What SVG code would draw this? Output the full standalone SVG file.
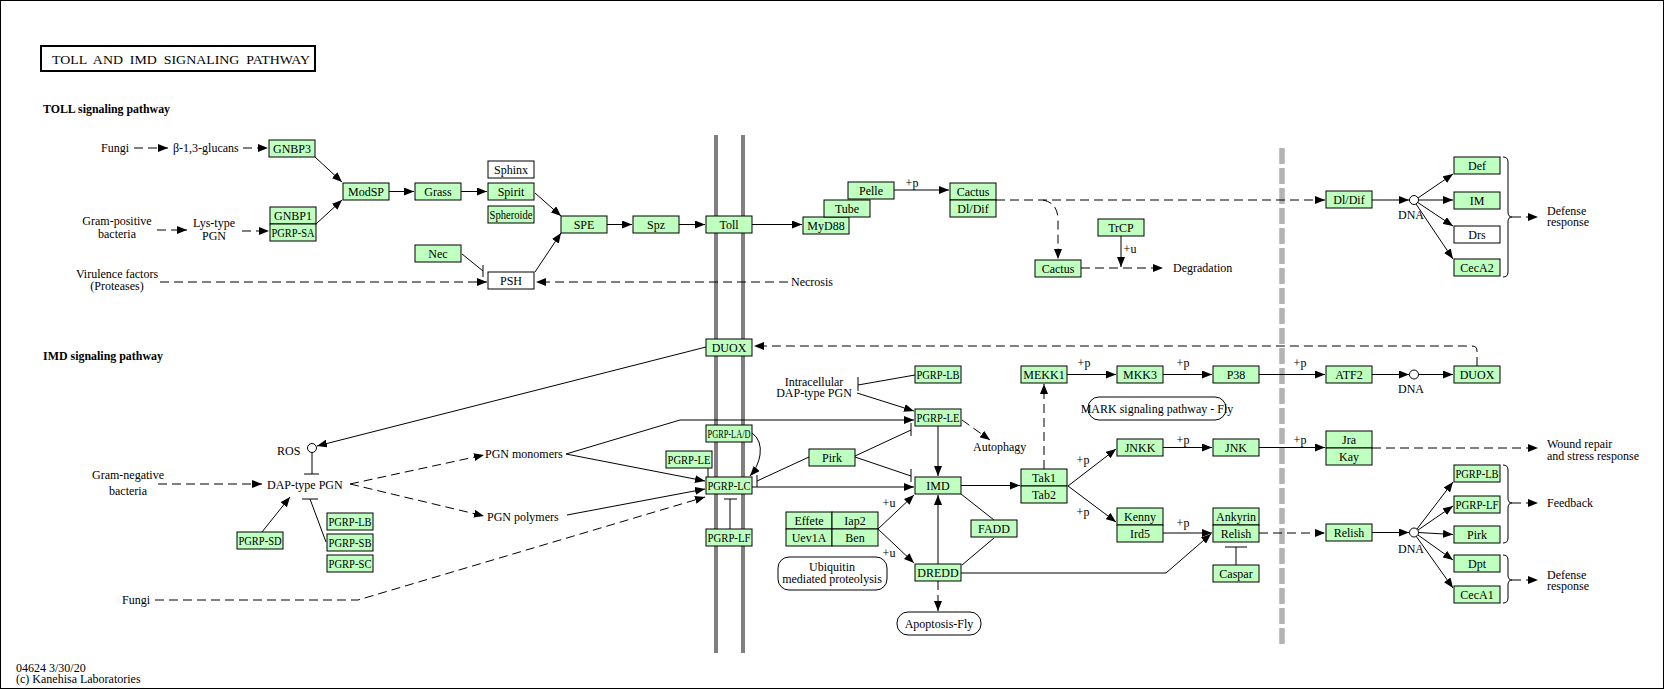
<svg xmlns="http://www.w3.org/2000/svg" width="1664" height="689" viewBox="0 0 1664 689">
<style>
text{font-family:"Liberation Serif","Times New Roman",serif;font-size:12px;fill:#000}
.n{fill:#bfffbf;stroke:#000;stroke-width:1}
.w{fill:#fff;stroke:#000;stroke-width:1}
.t{text-anchor:middle}
.c line,.c path,.c polyline{fill:none;stroke:#000;stroke-width:1}
.d{stroke-dasharray:9,5}
.b{font-weight:bold}
.r{text-anchor:end}
</style>
<defs>
<marker id="a" markerUnits="userSpaceOnUse" markerWidth="10" markerHeight="8" refX="10" refY="4" orient="auto"><path d="M0,0 L10,4 L0,8 z" fill="#000"/></marker>
</defs>
<rect x="0.5" y="0.5" width="1663" height="688" fill="#fff" stroke="#000"/>
<rect x="41" y="46" width="274" height="25" fill="none" stroke="#000" stroke-width="2"/>
<text x="52" y="64" font-size="15" xml:space="preserve" textLength="258" lengthAdjust="spacingAndGlyphs">TOLL  AND  IMD  SIGNALING  PATHWAY</text>
<text x="43" y="113" class="b" textLength="127" lengthAdjust="spacingAndGlyphs">TOLL signaling pathway</text>
<text x="43" y="360" class="b" textLength="120" lengthAdjust="spacingAndGlyphs">IMD signaling pathway</text>
<g id="membrane" stroke="#808080" stroke-width="4"><line x1="716" y1="135" x2="716" y2="653"/><line x1="743" y1="135" x2="743" y2="653"/></g>
<line id="nucleus" x1="1282" y1="148" x2="1282" y2="644" stroke="#b3b3b3" stroke-width="5.5" stroke-dasharray="16,4"/>
<g id="labels">
<text x="129" y="152" class="r">Fungi</text>
<text x="173" y="152">β-1,3-glucans</text>
<text x="117" y="225" class="t">Gram-positive</text><text x="117" y="238" class="t">bacteria</text>
<text x="214" y="227" class="t">Lys-type</text><text x="214" y="240" class="t">PGN</text>
<text x="117" y="278" class="t">Virulence factors</text><text x="117" y="290" class="t">(Proteases)</text>
<text x="791" y="286">Necrosis</text>
<text x="1173" y="272">Degradation</text>
<text x="1411" y="219" class="t" font-size="11">DNA</text>
<text x="1547" y="215">Defense</text><text x="1547" y="226">response</text>
<text x="912" y="187" class="t">+p</text>
<text x="1130" y="253" class="t">+u</text>
<text x="277" y="455">ROS</text>
<text x="128" y="479" class="t">Gram-negative</text><text x="128" y="495" class="t">bacteria</text>
<text x="267" y="489">DAP-type PGN</text>
<text x="485" y="458">PGN monomers</text>
<text x="487" y="521">PGN polymers</text>
<text x="150" y="604" class="r">Fungi</text>
<text x="814" y="386" class="t">Intracellular</text><text x="814" y="397" class="t">DAP-type PGN</text>
<text x="973" y="451">Autophagy</text>
<text x="1084" y="367" class="t">+p</text>
<text x="1183" y="367" class="t">+p</text>
<text x="1300" y="367" class="t">+p</text>
<text x="1411" y="393" class="t" font-size="11">DNA</text>
<text x="1183" y="444" class="t">+p</text>
<text x="1300" y="444" class="t">+p</text>
<text x="1083" y="464" class="t">+p</text>
<text x="1083" y="516" class="t">+p</text>
<text x="1183" y="527" class="t">+p</text>
<text x="889" y="507" class="t">+u</text>
<text x="889" y="557" class="t">+u</text>
<text x="1547" y="448">Wound repair</text><text x="1547" y="460">and stress response</text>
<text x="1547" y="507">Feedback</text>
<text x="1411" y="553" class="t" font-size="11">DNA</text>
<text x="1547" y="579">Defense</text><text x="1547" y="590">response</text>
<text x="16" y="672">04624 3/30/20</text>
<text x="16" y="683">(c) Kanehisa Laboratories</text>
</g>
<g id="maps">
<g id="map-mapk"><rect x="1088" y="397" width="138" height="23" rx="11" fill="#fff" stroke="#000"/><text x="1157" y="413" class="t">MARK signaling pathway - Fly</text></g>
<g id="map-ubq"><rect x="778" y="557" width="109" height="33" rx="11" fill="#fff" stroke="#000"/><text x="832" y="571" class="t">Ubiquitin</text><text x="832" y="583" class="t">mediated proteolysis</text></g>
<g id="map-apop"><rect x="897" y="612" width="84" height="23" rx="11" fill="#fff" stroke="#000"/><text x="939" y="628" class="t">Apoptosis-Fly</text></g>
</g>
<g id="connectors" class="c">
<line x1="134" y1="148" x2="168" y2="148" class="d" marker-end="url(#a)"/>
<line x1="243" y1="148" x2="268" y2="148" class="d" marker-end="url(#a)"/>
<line x1="315" y1="157" x2="342" y2="182" marker-end="url(#a)"/>
<line x1="316" y1="224" x2="342" y2="200" marker-end="url(#a)"/>
<line x1="389" y1="191.5" x2="414" y2="191.5" marker-end="url(#a)"/>
<line x1="461" y1="191.5" x2="487" y2="191.5" marker-end="url(#a)"/>
<line x1="535" y1="193" x2="561" y2="216" marker-end="url(#a)"/>
<line x1="535" y1="272" x2="561" y2="233" marker-end="url(#a)"/>
<line x1="462" y1="254" x2="483" y2="271"/><line x1="483" y1="265" x2="483" y2="277"/>
<line x1="160" y1="282" x2="487" y2="282" class="d" marker-end="url(#a)"/>
<line x1="788" y1="282" x2="536" y2="282" class="d" marker-end="url(#a)"/>
<line x1="157" y1="230" x2="187" y2="230" class="d" marker-end="url(#a)"/>
<line x1="242" y1="231" x2="269" y2="231" class="d" marker-end="url(#a)"/>
<line x1="607" y1="224.5" x2="632" y2="224.5" marker-end="url(#a)"/>
<line x1="679" y1="224.5" x2="705" y2="224.5" marker-end="url(#a)"/>
<line x1="752" y1="224.5" x2="802" y2="224.5" marker-end="url(#a)"/>
<line x1="894" y1="190" x2="949" y2="190" marker-end="url(#a)"/>
<line x1="996" y1="200" x2="1325" y2="200" class="d" marker-end="url(#a)"/>
<path d="M1043,200 Q1058,203 1058,220 V259" class="d" marker-end="url(#a)"/>
<line x1="1081" y1="268" x2="1163" y2="268" class="d" marker-end="url(#a)"/>
<line x1="1121" y1="236" x2="1121" y2="267" marker-end="url(#a)"/>
<line x1="1372" y1="200" x2="1409" y2="200" marker-end="url(#a)"/>
<line x1="1418" y1="198" x2="1453" y2="174" marker-end="url(#a)"/>
<line x1="1418" y1="200" x2="1453" y2="200" marker-end="url(#a)"/>
<line x1="1417" y1="202" x2="1453" y2="226" marker-end="url(#a)"/>
<line x1="1416" y1="204" x2="1453" y2="259" marker-end="url(#a)"/>
<path d="M1503,157 Q1508,157 1508,162 V212 Q1508,217 1512,217 Q1508,217 1508,222 V272 Q1508,277 1503,277"/>
<line x1="1512" y1="217" x2="1538" y2="217" class="d" marker-end="url(#a)"/>
<path d="M1477,366 V351 Q1477,346 1472,346 H754" class="d" marker-end="url(#a)"/>
<line x1="706" y1="347" x2="317" y2="446" marker-end="url(#a)"/>
<line x1="312" y1="452" x2="312" y2="474"/><line x1="304" y1="474" x2="319" y2="474"/>
<line x1="158" y1="484" x2="262" y2="484" class="d" marker-end="url(#a)"/>
<line x1="262" y1="532" x2="290" y2="497" marker-end="url(#a)"/>
<line x1="326" y1="542" x2="310" y2="499"/><line x1="302" y1="499" x2="318" y2="499"/>
<line x1="350" y1="484" x2="484" y2="455" class="d" marker-end="url(#a)"/>
<line x1="350" y1="484" x2="484" y2="516" class="d" marker-end="url(#a)"/>
<line x1="566" y1="454" x2="705" y2="481" marker-end="url(#a)"/>
<line x1="567" y1="515" x2="705" y2="489" marker-end="url(#a)"/>
<path d="M155,600 H358 L705,497" class="d" marker-end="url(#a)"/>
<path d="M566,454 L680,420 H914" marker-end="url(#a)"/>
<line x1="708" y1="468" x2="708" y2="477"/>
<path d="M752,433 Q762,440 760,455 Q758,467 750,476" marker-end="url(#a)"/>
<line x1="730" y1="529" x2="730" y2="499"/><line x1="724" y1="499" x2="737" y2="499"/>
<line x1="809" y1="457" x2="757" y2="481"/><line x1="757" y1="475" x2="757" y2="487"/>
<line x1="752" y1="487" x2="914" y2="487" marker-end="url(#a)"/>
<line x1="855" y1="456" x2="911" y2="430"/><line x1="911" y1="423" x2="911" y2="436"/>
<line x1="855" y1="457" x2="911" y2="476"/><line x1="911" y1="469" x2="911" y2="482"/>
<line x1="858" y1="385" x2="915" y2="375"/><line x1="858" y1="377" x2="858" y2="391"/>
<line x1="857" y1="393" x2="914" y2="411" marker-end="url(#a)"/>
<line x1="962" y1="420" x2="990" y2="440" class="d" marker-end="url(#a)"/>
<line x1="938" y1="426" x2="938" y2="476" marker-end="url(#a)"/>
<line x1="961" y1="485.5" x2="1020" y2="485.5" marker-end="url(#a)"/>
<line x1="1044" y1="469" x2="1044" y2="384" class="d" marker-end="url(#a)"/>
<line x1="1067" y1="374.5" x2="1116" y2="374.5" marker-end="url(#a)"/>
<line x1="1163" y1="374.5" x2="1212" y2="374.5" marker-end="url(#a)"/>
<line x1="1259" y1="374.5" x2="1325" y2="374.5" marker-end="url(#a)"/>
<line x1="1372" y1="374.5" x2="1409" y2="374.5" marker-end="url(#a)"/>
<line x1="1418" y1="374.5" x2="1453" y2="374.5" marker-end="url(#a)"/>
<line x1="1068" y1="486" x2="1116" y2="449" marker-end="url(#a)"/>
<line x1="1068" y1="486" x2="1116" y2="522" marker-end="url(#a)"/>
<line x1="1163" y1="447.5" x2="1212" y2="447.5" marker-end="url(#a)"/>
<line x1="1259" y1="447.5" x2="1325" y2="447.5" marker-end="url(#a)"/>
<line x1="1372" y1="448" x2="1538" y2="448" class="d" marker-end="url(#a)"/>
<line x1="1163" y1="533" x2="1212" y2="533" marker-end="url(#a)"/>
<path d="M961,573 H1166 L1211,534" marker-end="url(#a)"/>
<line x1="1236" y1="565" x2="1236" y2="547"/><line x1="1225" y1="547" x2="1247" y2="547"/>
<line x1="1259" y1="533" x2="1325" y2="533" class="d" marker-end="url(#a)"/>
<line x1="1372" y1="532.5" x2="1409" y2="532.5" marker-end="url(#a)"/>
<line x1="1417" y1="529" x2="1453" y2="482" marker-end="url(#a)"/>
<line x1="1418" y1="530" x2="1453" y2="506" marker-end="url(#a)"/>
<line x1="1418" y1="532.5" x2="1453" y2="534.5" marker-end="url(#a)"/>
<line x1="1418" y1="535" x2="1453" y2="560" marker-end="url(#a)"/>
<line x1="1416" y1="536" x2="1453" y2="588" marker-end="url(#a)"/>
<path d="M1503,465 Q1508,465 1508,470 V498 Q1508,503 1512,503 Q1508,503 1508,508 V538 Q1508,543 1503,543"/>
<line x1="1512" y1="503" x2="1538" y2="503" class="d" marker-end="url(#a)"/>
<path d="M1503,555 Q1508,555 1508,560 V575 Q1508,580 1512,580 Q1508,580 1508,585 V598 Q1508,603 1503,603"/>
<line x1="1512" y1="580" x2="1538" y2="580" class="d" marker-end="url(#a)"/>
<line x1="878" y1="529" x2="914" y2="495" marker-end="url(#a)"/>
<line x1="878" y1="529" x2="914" y2="563" marker-end="url(#a)"/>
<line x1="938" y1="564" x2="938" y2="495" marker-end="url(#a)"/>
<line x1="961" y1="494" x2="994" y2="520"/>
<line x1="994" y1="538" x2="962" y2="565"/>
<line x1="938" y1="581" x2="938" y2="611" class="d" marker-end="url(#a)"/>
</g>
<g id="compounds" fill="#fff" stroke="#000">
<circle id="dna1" cx="1414" cy="200" r="4.5"/>
<circle id="dna2" cx="1414" cy="374.5" r="4.5"/>
<circle id="dna3" cx="1414" cy="532.5" r="4.5"/>
<circle id="ros" cx="312" cy="448" r="4.5"/>
</g>
<g id="GNBP3"><rect class="n" x="269" y="140" width="46" height="17"/><text class="t" x="292" y="153">GNBP3</text></g>
<g id="GNBP1"><rect class="n" x="270" y="207" width="46" height="17"/><text class="t" x="293" y="220">GNBP1</text></g>
<g id="PGRP-SA"><rect class="n" x="270" y="224" width="46" height="17"/><text class="t" x="293" y="237" textLength="43" lengthAdjust="spacingAndGlyphs">PGRP-SA</text></g>
<g id="ModSP"><rect class="n" x="343" y="183" width="46" height="17"/><text class="t" x="366" y="196">ModSP</text></g>
<g id="Grass"><rect class="n" x="415" y="183" width="46" height="17"/><text class="t" x="438" y="196">Grass</text></g>
<g id="Sphinx"><rect class="w" x="488" y="161" width="46" height="17"/><text class="t" x="511" y="174">Sphinx</text></g>
<g id="Spirit"><rect class="n" x="488" y="183" width="46" height="17"/><text class="t" x="511" y="196">Spirit</text></g>
<g id="Spheroide"><rect class="n" x="488" y="206" width="46" height="17"/><text class="t" x="511" y="219" textLength="43" lengthAdjust="spacingAndGlyphs">Spheroide</text></g>
<g id="Nec"><rect class="n" x="415" y="245" width="46" height="17"/><text class="t" x="438" y="258">Nec</text></g>
<g id="PSH"><rect class="w" x="488" y="272" width="46" height="17"/><text class="t" x="511" y="285">PSH</text></g>
<g id="SPE"><rect class="n" x="561" y="216" width="46" height="17"/><text class="t" x="584" y="229">SPE</text></g>
<g id="Spz"><rect class="n" x="633" y="216" width="46" height="17"/><text class="t" x="656" y="229">Spz</text></g>
<g id="Toll"><rect class="n" x="706" y="216" width="46" height="17"/><text class="t" x="729" y="229">Toll</text></g>
<g id="MyD88"><rect class="n" x="803" y="217" width="46" height="17"/><text class="t" x="826" y="230">MyD88</text></g>
<g id="Tube"><rect class="n" x="824" y="200" width="46" height="17"/><text class="t" x="847" y="213">Tube</text></g>
<g id="Pelle"><rect class="n" x="848" y="182" width="46" height="17"/><text class="t" x="871" y="195">Pelle</text></g>
<g id="Cactus-DlDif"><rect class="n" x="950" y="183" width="46" height="17"/><text class="t" x="973" y="196">Cactus</text><rect class="n" x="950" y="200" width="46" height="17"/><text class="t" x="973" y="213">Dl/Dif</text></g>
<g id="Cactus2"><rect class="n" x="1035" y="260" width="46" height="17"/><text class="t" x="1058" y="273">Cactus</text></g>
<g id="TrCP"><rect class="n" x="1098" y="219" width="46" height="17"/><text class="t" x="1121" y="232">TrCP</text></g>
<g id="DlDif"><rect class="n" x="1326" y="191" width="46" height="17"/><text class="t" x="1349" y="204">Dl/Dif</text></g>
<g id="Def"><rect class="n" x="1454" y="157" width="46" height="17"/><text class="t" x="1477" y="170">Def</text></g>
<g id="IM"><rect class="n" x="1454" y="192" width="46" height="17"/><text class="t" x="1477" y="205">IM</text></g>
<g id="Drs"><rect class="w" x="1454" y="226" width="46" height="17"/><text class="t" x="1477" y="239">Drs</text></g>
<g id="CecA2"><rect class="n" x="1454" y="259" width="46" height="17"/><text class="t" x="1477" y="272">CecA2</text></g>
<g id="DUOX1"><rect class="n" x="706" y="339" width="46" height="17"/><text class="t" x="729" y="352">DUOX</text></g>
<g id="PGRP-LA"><rect class="n" x="706" y="425" width="46" height="17"/><text class="t" x="729" y="438" textLength="43" lengthAdjust="spacingAndGlyphs">PGRP-LA/D</text></g>
<g id="PGRP-LE1"><rect class="n" x="666" y="451" width="46" height="17"/><text class="t" x="689" y="464" textLength="43" lengthAdjust="spacingAndGlyphs">PGRP-LE</text></g>
<g id="PGRP-LC"><rect class="n" x="706" y="477" width="46" height="17"/><text class="t" x="729" y="490" textLength="43" lengthAdjust="spacingAndGlyphs">PGRP-LC</text></g>
<g id="PGRP-LF1"><rect class="n" x="706" y="529" width="46" height="17"/><text class="t" x="729" y="542" textLength="43" lengthAdjust="spacingAndGlyphs">PGRP-LF</text></g>
<g id="PGRP-SD"><rect class="n" x="237" y="532" width="46" height="17"/><text class="t" x="260" y="545" textLength="43" lengthAdjust="spacingAndGlyphs">PGRP-SD</text></g>
<g id="PGRP-LB1"><rect class="n" x="327" y="513" width="46" height="17"/><text class="t" x="350" y="526" textLength="43" lengthAdjust="spacingAndGlyphs">PGRP-LB</text></g>
<g id="PGRP-SB"><rect class="n" x="327" y="534" width="46" height="17"/><text class="t" x="350" y="547" textLength="43" lengthAdjust="spacingAndGlyphs">PGRP-SB</text></g>
<g id="PGRP-SC"><rect class="n" x="327" y="555" width="46" height="17"/><text class="t" x="350" y="568" textLength="43" lengthAdjust="spacingAndGlyphs">PGRP-SC</text></g>
<g id="PGRP-LB2"><rect class="n" x="915" y="366" width="46" height="17"/><text class="t" x="938" y="379" textLength="43" lengthAdjust="spacingAndGlyphs">PGRP-LB</text></g>
<g id="PGRP-LE2"><rect class="n" x="915" y="409" width="46" height="17"/><text class="t" x="938" y="422" textLength="43" lengthAdjust="spacingAndGlyphs">PGRP-LE</text></g>
<g id="IMD"><rect class="n" x="915" y="477" width="46" height="17"/><text class="t" x="938" y="490">IMD</text></g>
<g id="Pirk1"><rect class="n" x="809" y="449" width="46" height="17"/><text class="t" x="832" y="462">Pirk</text></g>
<g id="Effete-complex"><rect class="n" x="786" y="512" width="46" height="17"/><text class="t" x="809" y="525">Effete</text><rect class="n" x="832" y="512" width="46" height="17"/><text class="t" x="855" y="525">Iap2</text><rect class="n" x="786" y="529" width="46" height="17"/><text class="t" x="809" y="542">Uev1A</text><rect class="n" x="832" y="529" width="46" height="17"/><text class="t" x="855" y="542">Ben</text></g>
<g id="FADD"><rect class="n" x="971" y="520" width="46" height="17"/><text class="t" x="994" y="533">FADD</text></g>
<g id="DREDD"><rect class="n" x="915" y="564" width="46" height="17"/><text class="t" x="938" y="577">DREDD</text></g>
<g id="Tak1-Tab2"><rect class="n" x="1021" y="469" width="46" height="17"/><text class="t" x="1044" y="482">Tak1</text><rect class="n" x="1021" y="486" width="46" height="17"/><text class="t" x="1044" y="499">Tab2</text></g>
<g id="MEKK1"><rect class="n" x="1021" y="366" width="46" height="17"/><text class="t" x="1044" y="379">MEKK1</text></g>
<g id="MKK3"><rect class="n" x="1117" y="366" width="46" height="17"/><text class="t" x="1140" y="379">MKK3</text></g>
<g id="P38"><rect class="n" x="1213" y="366" width="46" height="17"/><text class="t" x="1236" y="379">P38</text></g>
<g id="ATF2"><rect class="n" x="1326" y="366" width="46" height="17"/><text class="t" x="1349" y="379">ATF2</text></g>
<g id="DUOX2"><rect class="n" x="1454" y="366" width="46" height="17"/><text class="t" x="1477" y="379">DUOX</text></g>
<g id="JNKK"><rect class="n" x="1117" y="439" width="46" height="17"/><text class="t" x="1140" y="452">JNKK</text></g>
<g id="JNK"><rect class="n" x="1213" y="439" width="46" height="17"/><text class="t" x="1236" y="452">JNK</text></g>
<g id="Jra-Kay"><rect class="n" x="1326" y="431" width="46" height="17"/><text class="t" x="1349" y="444">Jra</text><rect class="n" x="1326" y="448" width="46" height="17"/><text class="t" x="1349" y="461">Kay</text></g>
<g id="Kenny-Ird5"><rect class="n" x="1117" y="508" width="46" height="17"/><text class="t" x="1140" y="521">Kenny</text><rect class="n" x="1117" y="525" width="46" height="17"/><text class="t" x="1140" y="538">Ird5</text></g>
<g id="Ankyrin-Relish"><rect class="n" x="1213" y="508" width="46" height="17"/><text class="t" x="1236" y="521">Ankyrin</text><rect class="n" x="1213" y="525" width="46" height="17"/><text class="t" x="1236" y="538">Relish</text></g>
<g id="Caspar"><rect class="n" x="1213" y="565" width="46" height="17"/><text class="t" x="1236" y="578">Caspar</text></g>
<g id="Relish2"><rect class="n" x="1326" y="524" width="46" height="17"/><text class="t" x="1349" y="537">Relish</text></g>
<g id="PGRP-LB3"><rect class="n" x="1454" y="465" width="46" height="17"/><text class="t" x="1477" y="478" textLength="43" lengthAdjust="spacingAndGlyphs">PGRP-LB</text></g>
<g id="PGRP-LF3"><rect class="n" x="1454" y="496" width="46" height="17"/><text class="t" x="1477" y="509" textLength="43" lengthAdjust="spacingAndGlyphs">PGRP-LF</text></g>
<g id="Pirk3"><rect class="n" x="1454" y="526" width="46" height="17"/><text class="t" x="1477" y="539">Pirk</text></g>
<g id="Dpt"><rect class="n" x="1454" y="555" width="46" height="17"/><text class="t" x="1477" y="568">Dpt</text></g>
<g id="CecA1"><rect class="n" x="1454" y="586" width="46" height="17"/><text class="t" x="1477" y="599">CecA1</text></g>
</svg>
